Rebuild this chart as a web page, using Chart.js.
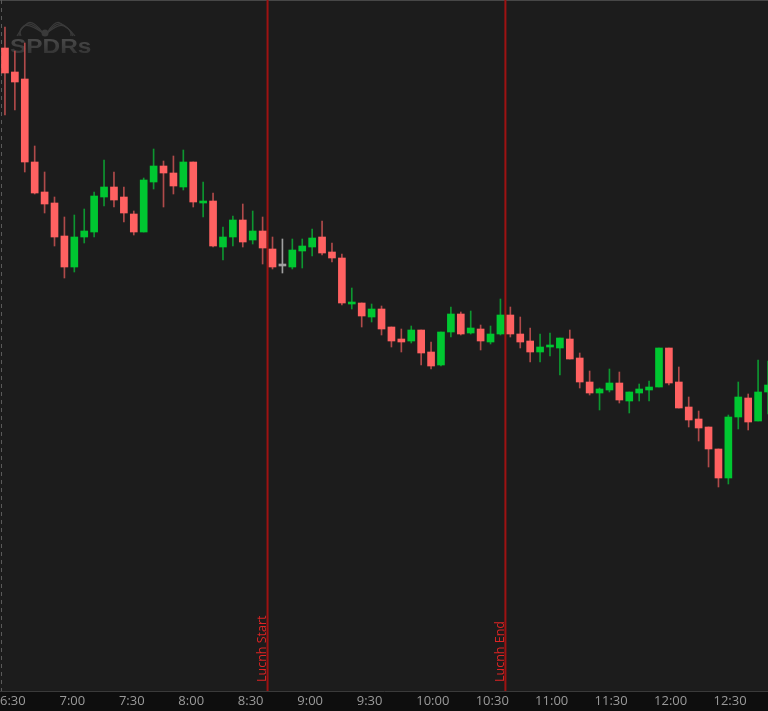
<!DOCTYPE html>
<html>
<head>
<meta charset="utf-8">
<script src="https://cdn.jsdelivr.net/npm/chart.js@4/dist/chart.umd.min.js"></script>
<style>
  html, body { margin: 0; padding: 0; background: #1c1c1c; }
  #wrap { width: 768px; height: 711px; position: relative; }
</style>
</head>
<body>
<div id="wrap"><canvas id="chart"></canvas></div>
<script>
// 5-minute SPY candles, 6:30 → 12:50
const opens  = [419.52, 419.28, 419.21, 418.38, 418.08, 417.97, 417.64, 417.33, 417.63, 417.68,
                418.03, 418.13, 418.03, 417.86, 417.68, 418.18, 418.34, 418.27, 418.13, 418.38,
                417.97, 417.99, 417.53, 417.63, 417.80, 417.60, 417.69, 417.51, 417.34, 417.33,
                417.49, 417.53, 417.63, 417.48, 417.42, 416.96, 416.97, 416.83, 416.91, 416.73,
                416.61, 416.59, 416.70, 416.48, 416.35, 416.68, 416.86, 416.67, 416.71, 416.58,
                416.66, 416.85, 416.66, 416.59, 416.48, 416.53, 416.52, 416.61, 416.42, 416.18,
                416.07, 416.10, 416.17, 415.99, 416.07, 416.10, 416.13, 416.52, 416.18, 415.93,
                415.81, 415.73, 415.51, 415.22, 415.83, 416.02, 415.79, 416.08];
const highs  = [419.73, 419.49, 419.57, 418.54, 418.28, 418.03, 417.83, 417.85, 417.91, 418.08,
                418.40, 418.28, 418.13, 417.89, 418.22, 418.51, 418.39, 418.44, 418.50, 418.38,
                418.18, 418.07, 417.73, 417.84, 417.96, 417.89, 417.83, 417.63, 417.61, 417.61,
                417.61, 417.71, 417.79, 417.57, 417.46, 417.12, 416.97, 416.96, 416.94, 416.73,
                416.71, 416.74, 416.70, 416.58, 416.68, 416.93, 416.88, 416.89, 416.75, 416.74,
                417.01, 416.93, 416.83, 416.72, 416.66, 416.67, 416.62, 416.70, 416.47, 416.29,
                416.12, 416.31, 416.28, 416.08, 416.16, 416.19, 416.52, 416.52, 416.33, 416.03,
                415.89, 415.73, 415.51, 415.85, 416.18, 416.06, 416.40, 416.39];
const lows   = [418.85, 418.90, 418.28, 418.06, 417.87, 417.54, 417.22, 417.28, 417.57, 417.63,
                417.94, 417.93, 417.78, 417.65, 417.68, 418.11, 417.93, 418.06, 418.10, 417.93,
                417.83, 417.53, 417.40, 417.54, 417.53, 417.56, 417.36, 417.31, 417.27, 417.31,
                417.32, 417.44, 417.45, 417.38, 416.95, 416.91, 416.73, 416.78, 416.65, 416.53,
                416.48, 416.57, 416.35, 416.31, 416.34, 416.63, 416.65, 416.66, 416.50, 416.56,
                416.65, 416.63, 416.52, 416.38, 416.38, 416.44, 416.25, 416.41, 416.12, 416.05,
                415.90, 416.08, 415.97, 415.87, 415.99, 415.99, 416.13, 416.15, 415.92, 415.73,
                415.59, 415.33, 415.13, 415.16, 415.71, 415.70, 415.79, 415.86];
const closes = [419.27, 419.18, 418.38, 418.07, 417.96, 417.63, 417.33, 417.63, 417.69, 418.04,
                418.13, 418.00, 417.87, 417.68, 418.20, 418.34, 418.27, 418.14, 418.38, 417.98,
                417.98, 417.54, 417.63, 417.80, 417.58, 417.69, 417.52, 417.33, 417.34, 417.50,
                417.54, 417.62, 417.47, 417.42, 416.97, 416.97, 416.84, 416.91, 416.71, 416.59,
                416.58, 416.70, 416.47, 416.34, 416.68, 416.86, 416.66, 416.72, 416.59, 416.66,
                416.85, 416.66, 416.58, 416.48, 416.53, 416.54, 416.62, 416.41, 416.18, 416.07,
                416.11, 416.17, 416.00, 416.08, 416.11, 416.13, 416.52, 416.17, 415.92, 415.80,
                415.72, 415.51, 415.22, 415.83, 416.03, 415.78, 416.08, 416.15];

const tickLabels   = ['6:30', '7:00', '7:30', '8:00', '8:30', '9:00', '9:30', '10:00', '10:30', '11:00', '11:30', '12:00', '12:30'];
const barsPerTick  = 6;
const markerSlots  = [27, 51];
const markerLabels = ['Lucnh Start', 'Lucnh End'];

const UP = '#00c731', DOWN = '#ff6161', FLAT = '#a0a0a0';
const UP_WICK = '#0d9630', DOWN_WICK = '#b04a4a';

const dir = i => closes[i] > opens[i] ? 1 : closes[i] < opens[i] ? -1 : 0;

const bodies = opens.map((o, i) => ({ x: i + 0.5, y: [o, closes[i]] }));
const wicks  = lows.map((l, i) => ({ x: i + 0.5, y: [l, highs[i]] }));

// ── Fond, logo, marqueurs ─────────────────────────────────────────────
const decor = {
  id: 'decor',
  beforeDraw(chart) {
    const { ctx, chartArea: a, width, height } = chart;
    ctx.save();
    ctx.fillStyle = '#0e0e0e';
    ctx.fillRect(0, 0, width, height);
    ctx.fillStyle = '#1c1c1c';
    ctx.fillRect(a.left, a.top, a.right - a.left, a.bottom - a.top);
    ctx.fillStyle = '#474747';
    ctx.fillRect(0, 0, width, 1);

    // logo
    ctx.strokeStyle = '#3a3a3a';
    ctx.lineWidth = 1.2;
    [[0, 0], [2, 1.5], [4, 3]].forEach(([d, e]) => {
      ctx.beginPath();
      ctx.moveTo(43, 33);
      ctx.quadraticCurveTo(33 - d, 20 + e, 28 - d, 23 + e);
      ctx.quadraticCurveTo(22 - d, 27 + e, 17 + d, 36);
      ctx.stroke();
      ctx.beginPath();
      ctx.moveTo(47, 33);
      ctx.quadraticCurveTo(55 + d, 20 + e, 60 + d, 23 + e);
      ctx.quadraticCurveTo(68 + d, 27 + e, 75 - d, 36);
      ctx.stroke();
    });
    ctx.fillStyle = '#3a3a3a';
    ctx.beginPath(); ctx.arc(45, 33, 3.5, 0, Math.PI * 2); ctx.fill();
    ctx.translate(10, 53);
    ctx.scale(1.22, 1);
    const g = ctx.createLinearGradient(0, -15, 0, 0);
    g.addColorStop(0, '#4a4a4a');
    g.addColorStop(1, '#353535');
    ctx.fillStyle = g;
    ctx.font = 'bold 20px "Liberation Sans", Arial, sans-serif';
    ctx.textBaseline = 'alphabetic';
    ctx.fillText('SPDRs', 0, 0);
    ctx.restore();
  },
  beforeDatasetsDraw(chart) {
    const { ctx, chartArea: a, scales: { x } } = chart;
    ctx.save();
    // séparateur de séance
    const x0 = x.getPixelForValue(0) + 1.5;
    ctx.strokeStyle = '#5a5a5a';
    ctx.lineWidth = 1;
    ctx.setLineDash([4, 4]);
    ctx.beginPath(); ctx.moveTo(x0, a.top); ctx.lineTo(x0, a.bottom); ctx.stroke();
    ctx.setLineDash([]);

    markerSlots.forEach((s, i) => {
      const px = x.getPixelForValue(s);
      ctx.strokeStyle = '#9e1212';
      ctx.lineWidth = 2;
      ctx.beginPath(); ctx.moveTo(px, a.top); ctx.lineTo(px, a.bottom); ctx.stroke();
      ctx.save();
      ctx.translate(px - 1.5, a.bottom - 9);
      ctx.rotate(-Math.PI / 2);
      ctx.fillStyle = '#dd2424';
      ctx.font = '12.5px "Open Sans", sans-serif';
      ctx.textAlign = 'left';
      ctx.textBaseline = 'alphabetic';
      ctx.fillText(markerLabels[i], 0, 0);
      ctx.restore();
    });
    ctx.restore();
  }
};

new Chart(document.getElementById('chart'), {
  type: 'bar',
  data: {
    datasets: [
      {
        data: bodies, order: 0, grouped: false,
        barThickness: 7, minBarLength: 2, borderWidth: 0,
        backgroundColor: ctx => [DOWN, FLAT, UP][dir(ctx.dataIndex) + 1],
      },
      {
        data: wicks, order: 1, grouped: false,
        barThickness: 1, borderWidth: 0,
        backgroundColor: ctx => [DOWN_WICK, FLAT, UP_WICK][dir(ctx.dataIndex) + 1],
      },
    ]
  },
  options: {
    responsive: true, maintainAspectRatio: false, animation: false,
    layout: { padding: 0 },
    plugins: { legend: { display: false }, tooltip: { enabled: false } },
    scales: {
      x: {
        type: 'linear', min: 0, max: 77.5, offset: false,
        grid: { display: false, drawTicks: false },
        border: { display: true, color: '#3a3a3a', width: 1 },
        afterBuildTicks: s => { s.ticks = tickLabels.map((_, i) => ({ value: i * barsPerTick })); },
        afterFit: s => { s.height = 20; },
        ticks: {
          align: 'start', padding: 0, autoSkip: false, maxRotation: 0,
          color: '#9a9a9a',
          font: { family: 'Open Sans', size: 13, lineHeight: 1.6 },
          callback: (v, i) => tickLabels[i],
        },
      },
      y: { display: false, min: 413.09, max: 420.0 },
    }
  },
  plugins: [decor]
});
</script>
</body>
</html>
